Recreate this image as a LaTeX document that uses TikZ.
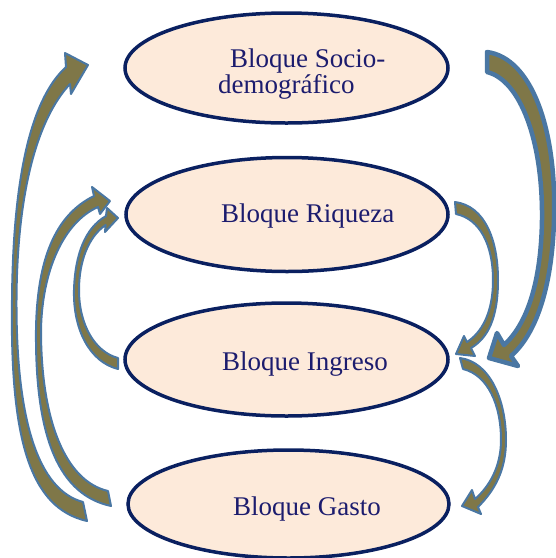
\documentclass[tikz,border=0pt]{standalone}
\usepackage{fontspec}
\setmainfont{Liberation Serif}
\usetikzlibrary{shapes.geometric}
\definecolor{olivefill}{RGB}{127,119,72}
\definecolor{arrowline}{RGB}{74,119,163}
\definecolor{blockfill}{RGB}{253,234,218}
\definecolor{blockline}{RGB}{10,32,96}
\definecolor{blocktext}{RGB}{28,28,110}
\tikzset{
  blockshape/.style={ellipse, draw=blockline, fill=blockfill, line width=3.5pt, inner sep=0pt},
  blocklabel/.style={text=blocktext, font=\fontsize{27}{27}\selectfont, inner sep=0pt, anchor=base west},
  curvedarrow/.style={fill=olivefill, draw=arrowline, line width=2pt, line join=round},
  bigarrow/.style={curvedarrow, line width=4.5pt}
}
\begin{document}
\begin{tikzpicture}[x=1pt,y=-1pt]
\useasboundingbox (0,0) rectangle (556,558);
% blocks
\node[blockshape, minimum width=323pt, minimum height=110pt] (socio) at (286.5,68) {};
\node[blockshape, minimum width=322pt, minimum height=114pt] (riqueza) at (287,214.5) {};
\node[blockshape, minimum width=323pt, minimum height=113pt] (ingreso) at (286.5,359.5) {};
\node[blockshape, minimum width=321pt, minimum height=108pt] (gasto) at (288.5,504) {};
% labels
\node[blocklabel] (tsocioa) at (230,67) {Bloque Socio-};
\node[blocklabel] (tsociob) at (218,93) {demográfico};
\node[blocklabel] (triqueza) at (221,222) {Bloque Riqueza};
\node[blocklabel] (tingreso) at (222,370) {Bloque Ingreso};
\node[blocklabel] (tgasto) at (233,515) {Bloque Gasto};
% left arrows
\path[curvedarrow] (87,521) .. controls (30,508) and (10,440) .. (12,300)
  .. controls (13,180) and (30,100) .. (66,67) -- (65,53) -- (88,65) -- (71,94) -- (70,84)
  .. controls (38,118) and (17,190) .. (16.5,300)
  .. controls (16,420) and (38,490) .. (83,502) -- cycle;
\path[curvedarrow] (111,506) .. controls (60,495) and (35,440) .. (36,330)
  .. controls (37,260) and (55,215) .. (94,196) -- (92,187) -- (110,201) -- (100,214) -- (98,207)
  .. controls (64,222) and (42,270) .. (41,330)
  .. controls (41,420) and (65,481) .. (108,491) -- cycle;
\path[curvedarrow] (118,369) .. controls (90,362) and (73,330) .. (74,290)
  .. controls (75,255) and (85,228) .. (106,216) -- (107,208) -- (118,218) -- (105,232) -- (105.6,225)
  .. controls (88,237) and (79,262) .. (79,290)
  .. controls (79,325) and (95,352) .. (118,358) -- cycle;
% right arrows
\path[bigarrow] (487,52) .. controls (532,58) and (557,130) .. (554,220)
  .. controls (552,290) and (535,335) .. (511,356) -- (518,366) -- (489,358) -- (497,333) -- (504,345)
  .. controls (526,325) and (541,285) .. (542,220)
  .. controls (543,140) and (520,80) .. (487,72) -- cycle;
\path[curvedarrow] (455,202) .. controls (485,206) and (498,240) .. (498,280)
  .. controls (498,318) and (488,338) .. (471,348) -- (475,356) -- (456,354) -- (464,336) -- (467,342)
  .. controls (481,333) and (493,314) .. (493,280)
  .. controls (493,245) and (480,219) .. (456,214) -- cycle;
\path[curvedarrow] (460,358) .. controls (490,362) and (506,400) .. (506,440)
  .. controls (506,470) and (495,490) .. (478,507) -- (481,514) -- (462,506) -- (472,490) -- (475,499)
  .. controls (490,486) and (501,466) .. (501,440)
  .. controls (501,405) and (488,375) .. (463,369) -- cycle;
\end{tikzpicture}
\end{document}
